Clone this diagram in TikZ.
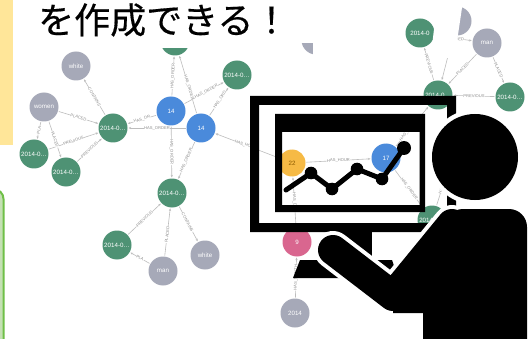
\documentclass[tikz,border=0pt]{standalone}
\usepackage{fontspec}
\setmainfont{Liberation Sans}
\newfontfamily\jpfont[FakeBold=0.4]{Noto Sans CJK JP}
\usetikzlibrary{arrows.meta}
\pgfdeclarelayer{paper}
\pgfdeclarelayer{edgelayer}
\pgfsetlayers{paper,edgelayer,main}

\definecolor{cgreen}{HTML}{4E9274}
\definecolor{cgrey}{HTML}{A6A9B8}
\definecolor{cblue}{HTML}{4A8ADB}
\definecolor{cyellow}{HTML}{F6BA45}
\definecolor{cpink}{HTML}{D9668F}
\definecolor{cdark}{HTML}{8A5A00}
\definecolor{cedge}{HTML}{BDBDBD}
\definecolor{clabel}{HTML}{8C8C8C}
\definecolor{panelyellow}{HTML}{FFE699}
\definecolor{boxfill}{HTML}{C5E0B4}
\definecolor{boxline}{HTML}{6FBF47}

\begin{document}
\begin{tikzpicture}[x=1pt,y=-1pt,
  gnode/.style={circle,inner sep=0pt,minimum size=29pt,text=white,font=\fontsize{6.2}{7}\selectfont},
  grn/.style={gnode,fill=cgreen},
  gry/.style={gnode,fill=cgrey},
  blu/.style={gnode,fill=cblue},
  rel/.style={draw=cedge,line width=0.6pt,shorten >=0.8pt,shorten <=0.8pt,-{Stealth[length=2.6pt,width=2.2pt]}},
  rlab/.style={sloped,fill=white,inner sep=0.3pt,text=clabel,font=\fontsize{4.1}{5}\selectfont},
  limb/.style={line width=30pt,line cap=round,line join=round},
  limbhalo/.style={white,line width=38pt,line cap=round,line join=round},
]
\useasboundingbox (0,0) rectangle (532,339);
\begin{pgfonlayer}{paper}
\fill[white] (0,0) rectangle (532,339);
\end{pgfonlayer}

% side panels
\fill[panelyellow] (0,0) rectangle (13,145);
\draw[boxline,fill=boxfill,line width=2pt,rounded corners=10pt] (-30,189) rectangle (3.5,370);

% graph nodes
\node[gry] (A) at (76,66) {white};
\node[gry] (B) at (44,107) {women};
\node[grn] (C) at (113,128) {2014-0…};
\node[blu] (D) at (171,111) {14};
\node[blu] (E) at (201,128) {14};
\node[grn] (F) at (237,75) {2014-0…};
\node[grn] (G) at (175,41) {};
\node[gry] (X) at (316,40) {};
\node[grn] (H) at (34,154) {2014-0…};
\node[grn] (I) at (66,172) {2014-0…};
\node[grn] (J) at (172,193) {2014-0…};
\node[grn] (K) at (117,245) {2014-0…};
\node[gry] (L) at (163,271) {man};
\node[gry] (M) at (205,255) {white};
\node[gnode,fill=cyellow,text=cdark,minimum size=27pt] (N) at (292,163) {22};
\node[blu] (O) at (386,158) {17};
\node[gnode,fill=cpink] (P) at (297,242) {9};
\node[gry] (Q) at (295,313) {2014};
\node[grn] (R) at (432,220) {2014-0…};
\node[grn] (S) at (438,95) {2014-0…};
\node[grn] (T) at (510,97) {2014-0…};
\node[gry] (U) at (487,43) {man};
\node[grn] (V) at (420,33) {2014-0};
\node[gry] (W) at (457,21) {};
\coordinate (Z) at (462,125);

% relationships
\begin{pgfonlayer}{edgelayer}
\draw[rel] (C) -- node[rlab]{CONTAINS} (A);
\draw[rel] (B) -- node[rlab]{PLACED} (C);
\draw[rel] (H) -- node[rlab]{PREVIOUS} (C);
\draw[rel] (I) -- node[rlab]{PREVIOUS} (C);
\draw[rel] (B) -- node[rlab]{PLA} (H);
\draw[rel] (B) -- node[rlab]{PLACED} (I);
\draw[rel] (D) -- node[rlab]{HAS\_OR} (C);
\draw[rel] (E) -- node[rlab]{HAS\_ORDER} (C);
\draw[rel] (D) -- node[rlab]{HAS\_ORDER} (G);
\draw[rel] (E) -- node[rlab,pos=0.45]{HAS\_ORDER} (G);
\draw[rel] (D) -- node[rlab,pos=0.56]{HAS\_ORDER} (F);
\draw[rel] (E) -- node[rlab,pos=0.55]{HAS\_ORD} (F);
\draw[rel] (D) -- node[rlab]{HAS\_ORDER} (J);
\draw[rel] (E) -- node[rlab]{HAS\_ORDER} (J);
\draw[rel] (N) -- node[rlab,pos=0.52]{HAS\_HOUR} (E);
\draw[rel] (K) -- node[rlab]{PREVIOUS} (J);
\draw[rel] (L) -- node[rlab,pos=0.45]{PLACED} (J);
\draw[rel] (J) -- node[rlab,pos=0.45]{CONTAINS} (M);
\draw[rel] (L) -- node[rlab]{PLA} (K);
\draw[rel] (N) -- node[rlab]{HAS\_HOUR} (O);
\draw[rel] (P) -- node[rlab]{HAS\_DAY} (N);
\draw[rel] (Q) -- node[rlab]{HAS\_MONTH} (P);
\draw[rel] (O) -- node[rlab]{HAS\_ORDER} (R);
\draw[rel] (O) -- node[rlab,pos=0.4]{HAS\_ORDER} (S);
\draw[rel,-] (R) -- node[rlab,pos=0.3]{HAS\_ORDER} (Z);
\draw[rel] (S) -- node[rlab]{PREVIOUS} (V);
\draw[rel] (U) -- node[rlab]{PLACED} (S);
\draw[rel] (U) -- node[rlab]{PLACED} (T);
\draw[rel] (T) -- node[rlab]{PREVIOUS} (S);
\draw[rel] (V) -- node[rlab,pos=0.56]{PLACED} (U);
\draw[rel] (W) -- (S);
\end{pgfonlayer}

% white areas over the graph
\fill[white] (14,-1) -- (335,-1) -- (335,56) -- (313,56) -- (313,43) -- (200,43)
  -- (200,48) -- (150,48) -- (150,43) -- (14,43) -- cycle;
\fill[white] (437.6,-1) -- (463.3,-1) -- (457.5,38) -- (450,60) -- (432,46) -- cycle;

% heading
\node[anchor=base west,inner sep=0pt,font=\jpfont\fontsize{36}{40}\selectfont] (title) at (38,33.5) {を作成できる！};

% chart on the screen
\coordinate (c0) at (286,190);
\coordinate (c1) at (311,173);
\coordinate (c2) at (332,189);
\coordinate (c3) at (357,169);
\coordinate (c4) at (382,179);
\coordinate (c5) at (404,148);
\draw[line width=5pt,line cap=round,line join=round] (c0) -- (c1) -- (c2) -- (c3) -- (c4) -- (c5);
\foreach \p in {c1,c2,c3,c4} \fill (\p) circle[radius=6.3pt];
\fill (c5) circle[radius=7pt];

% monitor
\fill[even odd rule] (250,96) rectangle (456,232) (259,105) rectangle (447,223);
\fill[even odd rule] (275,114) rectangle (425,212) (282,132) rectangle (419.5,205);
\fill (336,230) rectangle (372,262);
\fill (300,260) -- (392,260) -- (398,278) -- (293,278) -- cycle;

% person: white outline first, then the black figure
\coordinate (hand) at (333,250);
\coordinate (elbow) at (393,296);
\coordinate (shoulder) at (452,224);
\fill[white] (475,157) circle[radius=47.5pt];
\draw[limbhalo] (hand) -- (elbow) -- (shoulder);
\draw[white,line width=8pt,fill=white,rounded corners=18pt] (445,209) rectangle (527,370);
\draw[white,line width=8pt,fill=white] (elbow) -- (shoulder) -- (480,224) -- (480,370)
  -- (423,370) -- (423,313) -- (393,313) -- cycle;
\fill (475,157) circle[radius=43pt];
\draw[limb] (hand) -- (elbow) -- (shoulder);
\fill[rounded corners=18pt] (445,209) rectangle (527,370);
\fill (elbow) -- (shoulder) -- (480,224) -- (480,370) -- (423,370) -- (423,313) -- (393,313) -- cycle;
\end{tikzpicture}
\end{document}
